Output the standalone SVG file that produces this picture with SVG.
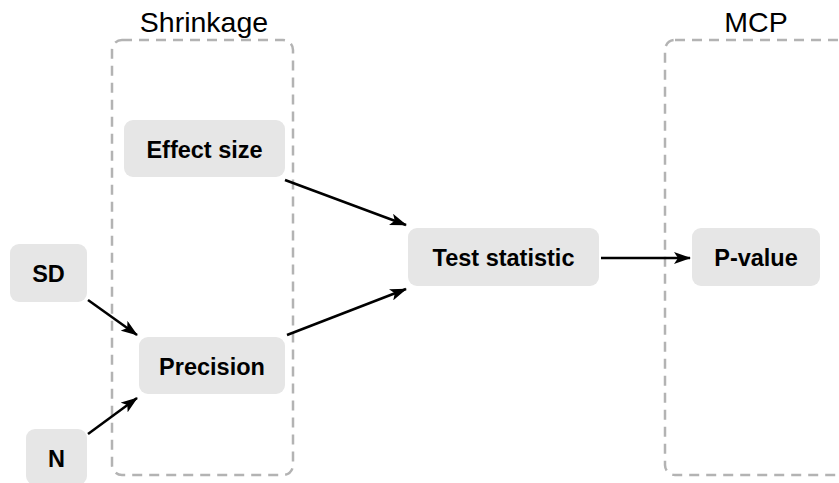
<svg xmlns="http://www.w3.org/2000/svg" width="839" height="483" viewBox="0 0 839 483">
<defs>
<marker id="ah" markerWidth="17" markerHeight="12" refX="16" refY="6" orient="auto" markerUnits="userSpaceOnUse">
<path d="M0,0 L17,6 L0,12 L4,6 Z" fill="#000"/>
</marker>
<style>
.grp{fill:none;stroke:#b3b3b3;stroke-width:2.5;stroke-dasharray:10 7}
.glabel{font-family:"Liberation Sans",Arial,sans-serif;font-size:28.5px;fill:#000;text-anchor:middle}
.node rect{fill:#e6e6e6}
.node text{font-family:"Liberation Sans",Arial,sans-serif;font-weight:bold;font-size:23.5px;fill:#000;text-anchor:middle}
.edge{stroke:#000;stroke-width:2.5;fill:none;marker-end:url(#ah)}
</style>
</defs>
<rect width="839" height="483" fill="#fff"/>
<g id="groups">
<rect class="grp" x="112" y="40" width="181" height="435" rx="10"/>
<text class="glabel" x="204" y="32">Shrinkage</text>
<rect class="grp" x="665" y="40" width="200" height="435" rx="10"/>
<text class="glabel" x="756" y="32">MCP</text>
</g>
<g id="effect-size" class="node"><rect x="124" y="120" width="161" height="57" rx="9"/><text x="204.5" y="158">Effect size</text></g>
<g id="sd" class="node"><rect x="10" y="244" width="77" height="58" rx="9"/><text x="48.5" y="282">SD</text></g>
<g id="precision" class="node"><rect x="139" y="337" width="146" height="57" rx="9"/><text x="212" y="375">Precision</text></g>
<g id="n" class="node"><rect x="26" y="429" width="61" height="56" rx="9"/><text x="56.5" y="467">N</text></g>
<g id="test-statistic" class="node"><rect x="408" y="228" width="191" height="58" rx="9"/><text x="503.5" y="266">Test statistic</text></g>
<g id="p-value" class="node"><rect x="692" y="228" width="128" height="58" rx="9"/><text x="756" y="266">P-value</text></g>
<g id="connectors">
<line class="edge" x1="285" y1="180" x2="406" y2="225"/>
<line class="edge" x1="287" y1="335" x2="406" y2="289"/>
<line class="edge" x1="88" y1="300" x2="137" y2="335"/>
<line class="edge" x1="88" y1="434" x2="137" y2="398"/>
<line class="edge" x1="601" y1="258" x2="690" y2="258"/>
</g>
</svg>
